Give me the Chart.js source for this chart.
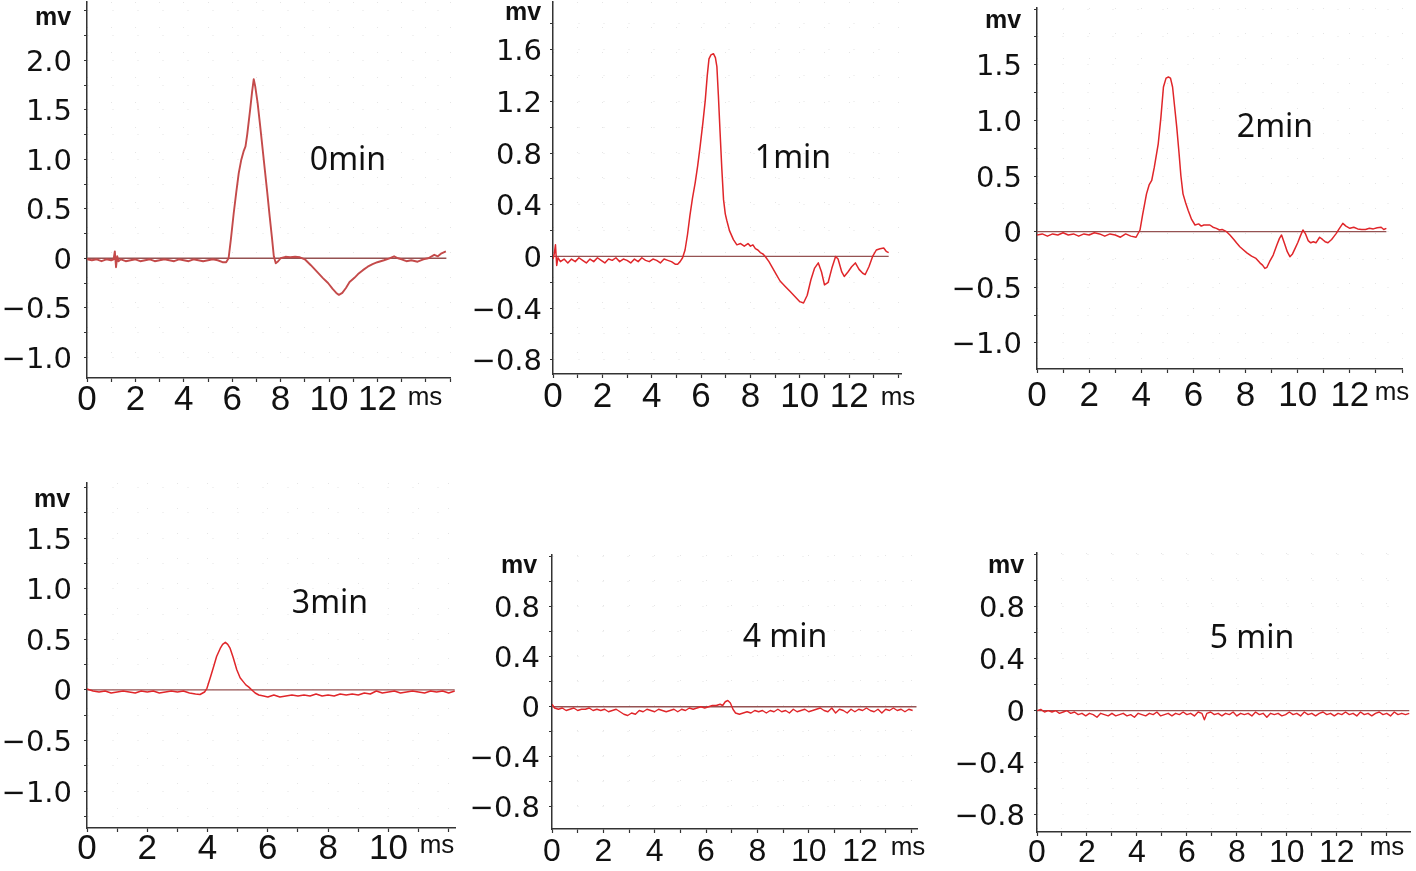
<!DOCTYPE html>
<html><head><meta charset="utf-8">
<script src="https://cdn.jsdelivr.net/npm/chart.js@4.4.1/dist/chart.umd.min.js"></script>
<style>
html,body{margin:0;padding:0;background:#fff;overflow:hidden;width:1416px;height:871px}
canvas{position:absolute;left:0;top:0}
</style></head><body>
<canvas id="c0" width="1416" height="871"></canvas>
<canvas id="c1" width="1416" height="871"></canvas>
<canvas id="c2" width="1416" height="871"></canvas>
<canvas id="c3" width="1416" height="871"></canvas>
<canvas id="c4" width="1416" height="871"></canvas>
<canvas id="c5" width="1416" height="871"></canvas>
<script>
// ---------------- data ----------------
const titles = ['0min','1min','2min','3min','4 min','5 min'];
const yUnit = 'mv';
const xUnit = 'ms';

const t0 = [0,0.2,0.4,0.6,0.8,1.0,1.1,1.15,1.2,1.25,1.3,1.4,1.6,1.8,2.0,2.2,2.4,2.6,2.8,3.0,3.2,3.4,3.6,3.8,4.0,4.2,4.4,4.6,4.8,5.0,5.2,5.4,5.6,5.75,5.85,5.95,6.06,6.17,6.27,6.37,6.47,6.55,6.62,6.74,6.82,6.89,6.95,7.05,7.15,7.25,7.35,7.45,7.55,7.65,7.72,7.8,7.9,8.0,8.2,8.4,8.6,8.8,9.0,9.25,9.5,9.75,9.96,10.15,10.3,10.41,10.55,10.7,10.85,11.04,11.2,11.4,11.6,11.8,12.0,12.27,12.5,12.69,12.85,13.0,13.2,13.4,13.66,13.9,14.1,14.35,14.5,14.65,14.83];
const v0 = [-0.01,-0.02,-0.01,-0.03,-0.01,-0.02,-0.01,0.07,-0.09,0.02,-0.03,-0.01,-0.03,-0.02,-0.01,-0.03,-0.02,-0.01,-0.03,-0.02,-0.01,-0.02,-0.03,-0.01,-0.02,-0.03,-0.01,-0.02,-0.03,-0.02,-0.01,-0.02,-0.04,-0.04,0.0,0.2,0.45,0.67,0.86,0.99,1.08,1.13,1.25,1.5,1.68,1.81,1.74,1.57,1.35,1.12,0.89,0.66,0.42,0.19,0.02,-0.05,-0.03,0.0,0.015,0.01,0.015,0.01,-0.01,-0.07,-0.135,-0.2,-0.25,-0.31,-0.35,-0.37,-0.35,-0.3,-0.24,-0.2,-0.16,-0.12,-0.085,-0.06,-0.04,-0.02,0.0,0.02,0.0,-0.01,-0.03,-0.02,-0.035,-0.01,0.0,0.035,0.02,0.05,0.07];

const t1 = [0,0.05,0.1,0.15,0.2,0.3,0.45,0.6,0.75,0.9,1.05,1.2,1.35,1.5,1.65,1.8,1.95,2.1,2.25,2.4,2.55,2.7,2.85,3.0,3.15,3.3,3.45,3.6,3.75,3.9,4.05,4.2,4.35,4.5,4.65,4.8,4.95,5.05,5.15,5.25,5.35,5.45,5.55,5.65,5.76,5.86,5.96,6.07,6.17,6.25,6.32,6.4,6.5,6.58,6.64,6.7,6.77,6.84,6.91,6.98,7.04,7.15,7.31,7.45,7.6,7.75,7.9,8.0,8.1,8.2,8.3,8.4,8.5,8.6,8.75,8.9,9.05,9.2,9.4,9.6,9.8,10.0,10.15,10.3,10.45,10.6,10.75,10.88,11.0,11.15,11.3,11.45,11.55,11.7,11.8,11.95,12.1,12.25,12.4,12.55,12.65,12.8,12.95,13.1,13.25,13.4,13.5,13.6];
const v1 = [-0.02,0.02,0.09,-0.07,-0.01,-0.04,-0.02,-0.05,-0.02,-0.04,-0.01,-0.03,-0.05,-0.02,-0.04,-0.01,-0.03,-0.05,-0.02,-0.03,-0.01,-0.04,-0.02,-0.03,-0.05,-0.02,-0.04,-0.01,-0.03,-0.04,-0.02,-0.03,-0.05,-0.02,-0.03,-0.04,-0.06,-0.06,-0.04,-0.01,0.05,0.17,0.32,0.45,0.57,0.7,0.85,1.03,1.21,1.4,1.53,1.56,1.57,1.54,1.47,1.25,0.96,0.68,0.44,0.33,0.28,0.2,0.13,0.09,0.1,0.08,0.1,0.08,0.09,0.06,0.05,0.03,0.02,0.0,-0.04,-0.09,-0.14,-0.19,-0.23,-0.27,-0.31,-0.35,-0.36,-0.3,-0.18,-0.09,-0.05,-0.12,-0.22,-0.2,-0.09,0.0,-0.02,-0.12,-0.155,-0.12,-0.08,-0.05,-0.1,-0.13,-0.14,-0.08,0.0,0.05,0.06,0.065,0.04,0.03];

const t2 = [0,0.2,0.4,0.6,0.8,1.0,1.2,1.4,1.6,1.8,2.0,2.2,2.4,2.6,2.8,3.0,3.2,3.4,3.6,3.8,3.95,4.05,4.2,4.3,4.4,4.5,4.65,4.75,4.85,4.95,5.04,5.12,5.2,5.28,5.36,5.45,5.52,5.6,5.7,5.8,5.93,6.06,6.2,6.3,6.4,6.52,6.63,6.75,6.88,7.0,7.1,7.27,7.4,7.55,7.65,7.78,7.9,8.05,8.23,8.4,8.55,8.65,8.74,8.82,8.92,9.06,9.2,9.3,9.38,9.5,9.6,9.7,9.8,9.9,10.0,10.1,10.2,10.3,10.4,10.5,10.6,10.7,10.84,10.95,11.05,11.16,11.3,11.4,11.48,11.6,11.73,11.85,12.0,12.15,12.3,12.45,12.6,12.75,12.9,13.05,13.2,13.3,13.4];
const v2 = [-0.03,-0.02,-0.04,-0.02,-0.03,-0.01,-0.03,-0.02,-0.04,-0.02,-0.03,-0.01,-0.02,-0.04,-0.02,-0.03,-0.05,-0.02,-0.04,-0.05,0.015,0.15,0.34,0.42,0.46,0.58,0.79,1.02,1.3,1.38,1.39,1.38,1.3,1.12,0.94,0.7,0.5,0.34,0.26,0.19,0.11,0.06,0.07,0.05,0.06,0.06,0.06,0.04,0.03,0.015,0.02,0.0,-0.03,-0.07,-0.1,-0.135,-0.16,-0.19,-0.22,-0.24,-0.28,-0.3,-0.33,-0.32,-0.27,-0.21,-0.12,-0.06,-0.03,-0.11,-0.18,-0.225,-0.2,-0.15,-0.1,-0.04,0.015,-0.02,-0.08,-0.1,-0.09,-0.1,-0.05,-0.07,-0.09,-0.1,-0.07,-0.04,-0.015,0.03,0.075,0.05,0.03,0.04,0.025,0.02,0.02,0.03,0.025,0.035,0.04,0.02,0.03];

const t3 = [0,0.2,0.4,0.6,0.8,1.0,1.2,1.4,1.6,1.8,2.0,2.2,2.4,2.6,2.8,3.0,3.2,3.4,3.6,3.75,3.9,3.98,4.1,4.2,4.3,4.42,4.5,4.59,4.67,4.75,4.85,4.97,5.08,5.19,5.27,5.36,5.47,5.58,5.7,5.86,6.0,6.2,6.4,6.6,6.8,7.0,7.2,7.4,7.6,7.8,8.0,8.2,8.4,8.6,8.8,9.0,9.2,9.4,9.6,9.8,10.0,10.2,10.4,10.6,10.8,11.0,11.2,11.4,11.6,11.8,12.0,12.2];
const v3 = [0.01,-0.01,-0.02,-0.01,-0.03,-0.02,-0.01,-0.02,-0.03,-0.01,-0.02,-0.01,-0.03,-0.02,-0.01,-0.02,-0.01,-0.03,-0.04,-0.045,-0.02,0.016,0.13,0.23,0.33,0.41,0.45,0.47,0.45,0.41,0.32,0.2,0.12,0.08,0.05,0.03,0.0,-0.03,-0.05,-0.06,-0.07,-0.05,-0.07,-0.06,-0.05,-0.06,-0.05,-0.06,-0.04,-0.06,-0.05,-0.06,-0.04,-0.05,-0.04,-0.05,-0.03,-0.04,-0.01,-0.03,-0.02,-0.01,-0.03,-0.02,-0.01,-0.02,-0.03,-0.01,-0.02,-0.01,-0.03,-0.01];

const t4 = [0,0.1,0.25,0.4,0.55,0.7,0.85,1.0,1.15,1.3,1.45,1.6,1.75,1.9,2.05,2.2,2.35,2.5,2.65,2.8,2.95,3.1,3.25,3.4,3.55,3.7,3.85,4.0,4.15,4.3,4.45,4.6,4.75,4.9,5.05,5.2,5.35,5.5,5.65,5.8,5.95,6.1,6.25,6.4,6.55,6.65,6.75,6.85,6.95,7.05,7.15,7.3,7.45,7.6,7.75,7.9,8.05,8.2,8.35,8.5,8.65,8.8,8.95,9.1,9.25,9.4,9.55,9.7,9.85,10.0,10.15,10.3,10.45,10.6,10.75,10.9,11.05,11.2,11.35,11.5,11.65,11.8,11.95,12.1,12.25,12.4,12.55,12.7,12.85,13.0,13.15,13.3,13.45,13.6,13.75,13.9,14.05];
const v4 = [0.02,-0.01,-0.02,-0.01,-0.03,-0.02,-0.01,-0.03,-0.02,-0.02,-0.01,-0.03,-0.02,-0.03,-0.02,-0.04,-0.03,-0.02,-0.04,-0.06,-0.07,-0.05,-0.06,-0.03,-0.04,-0.02,-0.03,-0.04,-0.02,-0.03,-0.04,-0.03,-0.02,-0.04,-0.02,-0.03,-0.01,-0.02,-0.01,0.0,-0.01,0.0,0.01,0.01,0.02,0.01,0.04,0.05,0.03,-0.02,-0.05,-0.06,-0.05,-0.04,-0.05,-0.03,-0.04,-0.03,-0.05,-0.03,-0.04,-0.02,-0.04,-0.03,-0.05,-0.02,-0.04,-0.03,-0.02,-0.04,-0.03,-0.02,-0.01,-0.03,-0.04,-0.01,-0.05,-0.02,-0.03,-0.05,-0.02,-0.04,-0.02,-0.03,-0.01,-0.03,-0.04,-0.02,-0.05,-0.02,-0.03,-0.01,-0.03,-0.02,-0.04,-0.02,-0.03];

const t5 = [0,0.15,0.3,0.45,0.6,0.75,0.9,1.05,1.2,1.35,1.5,1.65,1.8,1.95,2.1,2.25,2.4,2.55,2.7,2.85,3.0,3.15,3.3,3.45,3.6,3.75,3.9,4.05,4.2,4.35,4.5,4.65,4.8,4.95,5.1,5.25,5.4,5.55,5.7,5.85,6.0,6.15,6.3,6.45,6.6,6.7,6.8,6.95,7.1,7.25,7.4,7.55,7.7,7.85,8.0,8.15,8.3,8.45,8.6,8.75,8.9,9.05,9.2,9.35,9.5,9.65,9.8,9.95,10.1,10.25,10.4,10.55,10.7,10.85,11.0,11.15,11.3,11.45,11.6,11.75,11.9,12.05,12.2,12.35,12.5,12.65,12.8,12.95,13.1,13.25,13.4,13.55,13.7,13.85,14.0,14.15,14.3,14.45,14.6,14.75,14.9];
const v5 = [0.0,0.01,-0.01,0.0,-0.01,0.0,-0.02,-0.01,0.0,-0.02,-0.01,-0.03,-0.02,-0.04,-0.02,-0.03,-0.05,-0.02,-0.03,-0.04,-0.02,-0.04,-0.03,-0.02,-0.04,-0.03,-0.05,-0.02,-0.03,-0.04,-0.02,-0.03,-0.01,-0.04,-0.03,-0.02,-0.04,-0.02,-0.03,-0.01,-0.03,-0.02,-0.04,-0.01,-0.02,-0.07,-0.02,-0.01,-0.03,-0.02,-0.04,-0.02,-0.03,-0.01,-0.04,-0.02,-0.03,-0.02,-0.04,-0.01,-0.03,-0.02,-0.05,-0.02,-0.03,-0.02,-0.04,-0.03,-0.01,-0.03,-0.02,-0.04,-0.01,-0.03,-0.02,-0.04,-0.02,-0.01,-0.03,-0.02,-0.04,-0.02,-0.03,-0.01,-0.03,-0.02,-0.04,-0.01,-0.03,-0.02,-0.04,-0.02,-0.01,-0.03,-0.02,-0.04,-0.01,-0.03,-0.02,-0.03,-0.02];

// end of the zero reference line in each panel (ms)
const zeroEnds = [14.85, 13.6, 13.4, 12.2, 14.2, 14.9];

// tick labels
const xTicksA = [0,2,4,6,8,10,12];
const xTicksB = [0,2,4,6,8,10];
const yTicksA = [2.0,1.5,1.0,0.5,0,-0.5,-1.0];
const yLabelsA = ['2.0','1.5','1.0','0.5','0','\u22120.5','\u22121.0'];
const yTicksB = [1.6,1.2,0.8,0.4,0,-0.4,-0.8];
const yLabelsB = ['1.6','1.2','0.8','0.4','0','\u22120.4','\u22120.8'];
const yTicksC = [1.5,1.0,0.5,0,-0.5,-1.0];
const yLabelsC = ['1.5','1.0','0.5','0','\u22120.5','\u22121.0'];
const yTicksD = [0.8,0.4,0,-0.4,-0.8];
const yLabelsD = ['0.8','0.4','0','\u22120.4','\u22120.8'];

// ---------------- layout / style ----------------
const W = 1416, H = 871;
const frames = [
  {L:87, R:450, T:2, B:378, xMax:15.0, yMin:-1.21, yMax:2.59, yStep:0.25, yPad:12, xPad:1, xFont:35,
   color:'#c44a4a', lw:1.9, title:[348,170], mv:[53,25], ms:[425,405]},
  {L:553, R:901, T:2, B:374, xMax:14.1, yMin:-0.91, yMax:1.97, yStep:0.2, yPad:8, xPad:1.5, xFont:35,
   color:'#e0262a', lw:1.5, title:[793,168], mv:[523,20], ms:[898,405]},
  {L:1037, R:1402, T:8, B:369, xMax:14.0, yMin:-1.234, yMax:2.01, yStep:0.25, yPad:12, xPad:5.5, xFont:35,
   color:'#e0262a', lw:1.5, title:[1275,137], mv:[1003,28], ms:[1392,400]},
  {L:87, R:455, T:483, B:828, xMax:12.21, yMin:-1.364, yMax:2.045, yStep:0.25, yPad:12, xPad:0, xFont:35,
   color:'#e0262a', lw:1.5, title:[330,613], mv:[52,507], ms:[437,853]},
  {L:552, R:917, T:555, B:829, xMax:14.22, yMin:-0.978, yMax:1.214, yStep:0.2, yPad:9, xPad:3, xFont:32,
   color:'#e0262a', lw:1.4, title:[785,647], mv:[519,573], ms:[908,855]},
  {L:1037, R:1410, T:553, B:832, xMax:14.93, yMin:-0.933, yMax:1.213, yStep:0.2, yPad:9, xPad:1, xFont:32,
   color:'#e0262a', lw:1.4, title:[1252,648], mv:[1006,573], ms:[1387,855]}
];
const series = [[t0,v0],[t1,v1],[t2,v2],[t3,v3],[t4,v4],[t5,v5]];
const xTickSets = [xTicksA,xTicksA,xTicksA,xTicksB,xTicksA,xTicksA];
const yTickSets = [[yTicksA,yLabelsA],[yTicksB,yLabelsB],[yTicksC,yLabelsC],[yTicksC,yLabelsC],[yTicksD,yLabelsD],[yTicksD,yLabelsD]];

// tick positions (minor ticks) between the axis bounds
function tickPositions(min, max, step) {
  const out = [];
  for (let k = Math.ceil(min / step - 1e-9); k * step <= max + 1e-9; k++) out.push(Math.round(k * step * 1e4) / 1e4);
  return out;
}

const notesPlugin = {
  id: 'notes',
  afterDraw(chart, args, opts) {
    const ctx = chart.ctx;
    ctx.save();
    ctx.fillStyle = '#111';
    ctx.textAlign = 'center';
    ctx.textBaseline = 'alphabetic';
    for (const n of opts.items) {
      ctx.font = n.font;
      ctx.fillText(n.text, n.x, n.y);
    }
    ctx.restore();
  }
};

frames.forEach((f, k) => {
  const [tt, vv] = series[k];
  const xt = xTickSets[k];
  const [yt, yl] = yTickSets[k];
  const pts = [];
  const n = Math.min(tt.length, vv.length);
  for (let i = 0; i < n; i++) pts.push({x: tt[i], y: vv[i]});
  const xPos = tickPositions(0, f.xMax, 1);
  const yPos = tickPositions(f.yMin, f.yMax, f.yStep);
  new Chart(document.getElementById('c' + k), {
    type: 'line',
    data: {datasets: [
      {data: pts, borderColor: f.color, borderWidth: f.lw, pointRadius: 0, tension: 0, fill: false, borderJoinStyle: 'round'},
      {data: [{x: 0, y: 0}, {x: zeroEnds[k], y: 0}], borderColor: '#955252', borderWidth: 1.3, pointRadius: 0, fill: false}
    ]},
    options: {
      responsive: false, animation: false, events: [],
      layout: {padding: {left: 0, top: f.T, right: W - f.R, bottom: 0}},
      plugins: {
        legend: {display: false}, tooltip: {enabled: false},
        notes: {items: [
          {text: titles[k], x: f.title[0], y: f.title[1], font: '32px "Noto Sans"'},
          {text: yUnit, x: f.mv[0], y: f.mv[1], font: 'bold 25px "Liberation Sans"'},
          {text: xUnit, x: f.ms[0], y: f.ms[1], font: '26px "Liberation Sans"'}
        ]}
      },
      scales: {
        x: {
          type: 'linear', position: 'bottom', min: 0, max: f.xMax, bounds: 'data',
          afterBuildTicks: (s) => { s.ticks = xPos.map(v => ({value: v})); },
          ticks: {autoSkip: false, maxRotation: 0, minRotation: 0,
            padding: f.xPad, color: '#111', font: {family: '"Liberation Sans", Arial, sans-serif', size: f.xFont, lineHeight: 1},
            callback: (val) => { const i = xt.findIndex(a => Math.abs(a - val) < 1e-6); return i >= 0 ? String(xt[i]) : ''; }},
          grid: {color: 'rgba(0,0,0,0.10)', lineWidth: 1, drawTicks: true, tickLength: 4, tickColor: '#333', tickWidth: 1.2},
          border: {display: true, color: '#333', width: 1.5, dash: [1, 24]},
          afterFit: (s) => { s.height = H - f.B; s.paddingLeft = 0; s.paddingRight = 0; }
        },
        y: {
          type: 'linear', position: 'left', min: f.yMin, max: f.yMax, bounds: 'data',
          afterBuildTicks: (s) => { s.ticks = yPos.map(v => ({value: v})); },
          ticks: {autoSkip: false, labelOffset: 3,
            padding: f.yPad, color: '#111', font: {family: '"DejaVu Sans", sans-serif', size: 29, lineHeight: 1},
            callback: (val) => { const i = yt.findIndex(a => Math.abs(a - val) < 1e-6); return i >= 0 ? yl[i] : ''; }},
          grid: {color: 'rgba(0,0,0,0.10)', lineWidth: 1, drawTicks: true, tickLength: 3, tickColor: '#333', tickWidth: 1.2},
          border: {display: true, color: '#333', width: 1.5, dash: [1, 24]},
          afterFit: (s) => { s.width = f.L; s.paddingTop = 0; s.paddingBottom = 0; }
        }
      }
    },
    plugins: [notesPlugin]
  });
});
</script>
</body></html>
